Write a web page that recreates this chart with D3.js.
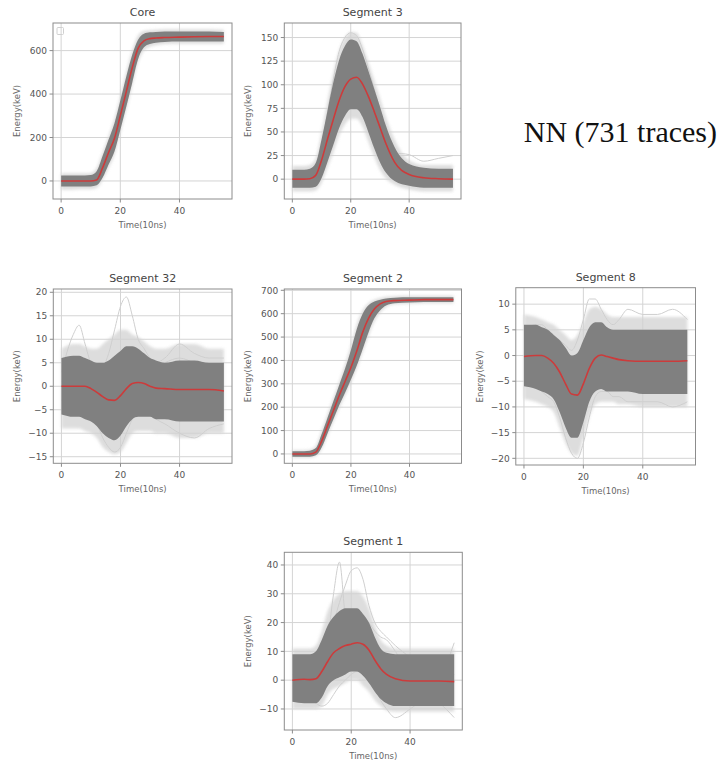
<!DOCTYPE html>
<html>
<head>
<meta charset="utf-8">
<script src="https://cdnjs.cloudflare.com/ajax/libs/d3/7.8.5/d3.min.js"></script>
<style>
    body { margin: 0; background: #fff; }
    .tick-label { font-family: "DejaVu Sans", sans-serif; font-size: 9px; fill: #555; }
    .panel-title { font-family: "DejaVu Sans", sans-serif; font-size: 11px; fill: #444; }
    .axis-label { font-family: "DejaVu Sans", sans-serif; font-size: 8.5px; fill: #666; }
</style>
</head>
<body>
<div id="chart-area"></div>
<script>

// sample times (10ns units), shared by every series below
let times = [0, 4, 6, 8, 10, 12, 14, 16, 18, 20, 22, 24, 26, 28, 30, 32, 35, 40, 45, 50, 55];
let xTicks = [0, 20, 40];

// Core
let coreMean  = [0, 0, 0, 0, 0, 5, 60, 130, 195, 300, 410, 520, 610, 645, 655, 658, 660, 662, 664, 665, 665];
let coreHi    = [25, 25, 25, 25, 27, 45, 115, 190, 265, 370, 480, 580, 650, 678, 684, 686, 688, 688, 688, 688, 686];
let coreLo    = [-25, -25, -25, -25, -25, -20, 15, 75, 135, 235, 340, 450, 560, 615, 630, 636, 640, 642, 642, 642, 642];
let coreHiOut = [35, 35, 35, 35, 37, 60, 130, 205, 285, 390, 500, 600, 670, 690, 694, 696, 698, 698, 698, 698, 696];
let coreLoOut = [-40, -40, -38, -38, -38, -32, 5, 60, 120, 220, 325, 435, 545, 600, 618, 625, 630, 632, 632, 632, 632];
let coreTicks = [0, 200, 400, 600];

// Segment 3
let seg3Mean  = [0, 0, 0.5, 4, 20, 42, 63, 83, 98, 106, 108, 101, 88, 72, 55, 38, 18, 5, 1.5, 0.5, 0];
let seg3Hi    = [10, 10, 11, 17, 42, 72, 102, 126, 141, 148, 146, 133, 115, 96, 77, 57, 34, 16, 12, 11, 11];
let seg3Lo    = [-9, -9, -9, -8, 1, 18, 36, 54, 67, 74, 74, 66, 50, 33, 18, 7, -2, -7, -9, -9, -9];
let seg3HiOut = [14, 14, 15, 22, 50, 82, 112, 136, 150, 156, 155, 142, 124, 105, 86, 66, 42, 20, 15, 15, 15];
let seg3LoOut = [-13, -13, -13, -12, -4, 12, 28, 46, 58, 64, 64, 56, 40, 24, 10, 1, -6, -11, -13, -13, -13];
let seg3Tail  = [0, 0, 0, 2, 15, 35, 60, 85, 100, 110, 112, 105, 92, 75, 58, 40, 28, 26, 19, 22, 25];
let seg3Peak  = [2, 2, 3, 8, 35, 70, 105, 135, 150, 155, 152, 138, 118, 96, 74, 52, 30, 12, 8, 6, 6];
let seg3Ticks = [0, 25, 50, 75, 100, 125, 150];

// Segment 32
let seg32Mean  = [0, 0, 0, 0, -0.5, -1.3, -2.2, -2.9, -3.0, -2.0, -0.5, 0.6, 0.8, 0.6, 0, -0.4, -0.5, -0.7, -0.7, -0.7, -1.0];
let seg32Hi    = [6, 6.5, 6.5, 6, 5.5, 5, 5, 5.5, 6.5, 7.5, 8.5, 8.5, 8, 7, 6, 5.5, 5, 5.5, 5.5, 5, 5];
let seg32Lo    = [-6, -6.5, -6.5, -7, -7.5, -8.5, -10, -11, -11.5, -10.5, -8.5, -7, -6.5, -6.5, -6.5, -7, -7, -7.5, -7.5, -7.5, -7.5];
let seg32HiOut = [8, 9, 9, 8.5, 8, 8, 9, 10, 11, 12, 12, 11, 10.5, 9.5, 8.5, 8, 8, 9, 9, 8, 8];
let seg32LoOut = [-9, -9, -9, -9.5, -10, -11, -13, -14, -14.5, -14, -12, -10, -9.5, -9.5, -9.5, -10, -10, -11, -11, -10, -10];
let seg32Up    = [1, 2, 2, 1, 2, 3, 4, 7, 12, 17, 19, 15, 10, 8, 6, 5, 6, 9, 7, 6, 6];
let seg32Early = [3, 11, 13, 9, 5, 4, 3, 2, 2, 3, 4, 5, 6, 5, 4, 4, 5, 6, 5, 4, 5];
let seg32Down  = [-3, -4, -4, -5, -6, -8, -11, -13, -14, -13, -10, -7, -5, -5, -6, -7, -8, -10, -11, -9, -8];
let seg32Ticks = [-15, -10, -5, 0, 5, 10, 15, 20];

// Segment 2
let seg2Mean  = [0, 0, 0, 8, 55, 120, 185, 250, 310, 370, 440, 520, 580, 620, 642, 652, 656, 658, 660, 660, 660];
let seg2Hi    = [12, 12, 14, 25, 85, 155, 225, 295, 365, 445, 535, 600, 636, 652, 660, 665, 668, 670, 670, 670, 670];
let seg2Lo    = [-12, -12, -12, -6, 28, 88, 148, 208, 262, 318, 378, 448, 520, 580, 615, 635, 645, 648, 650, 650, 650];
let seg2HiOut = [16, 16, 18, 35, 100, 170, 240, 310, 385, 465, 555, 615, 645, 660, 667, 672, 675, 677, 677, 677, 677];
let seg2LoOut = [-16, -16, -16, -10, 20, 78, 138, 195, 250, 305, 365, 435, 505, 565, 605, 628, 640, 643, 645, 645, 645];
let seg2Ticks = [0, 100, 200, 300, 400, 500, 600, 700];

// Segment 8
let seg8Mean  = [-0.2, 0, 0, -0.5, -1.5, -3.2, -5.5, -7.5, -7.7, -5.5, -2.5, -0.5, 0.1, -0.2, -0.5, -0.8, -1, -1.1, -1.1, -1.1, -1.0];
let seg8Hi    = [6, 6, 5.5, 5, 4, 3, 1.5, 0, 0.5, 3, 5.5, 6.5, 6.5, 5.5, 5, 5, 5, 5, 5, 5, 5];
let seg8Lo    = [-6, -6.5, -7, -7.5, -8.5, -11, -14, -16, -16, -13, -9, -7, -6.5, -7, -7, -7, -7, -7.5, -7.5, -7.5, -7.5];
let seg8HiOut = [8, 7.5, 7, 6.5, 6, 5, 4, 3, 4, 6.5, 9, 9.5, 9, 8, 7.5, 7.5, 7.5, 7.5, 7.5, 7.5, 7.5];
let seg8LoOut = [-8.5, -9, -9.5, -10, -11, -14, -17, -19, -19.5, -16, -12, -9.5, -9, -9, -9, -9.5, -9.5, -10, -10, -10, -10];
let seg8Up    = [5, 6, 6, 5, 4, 3, 2, 1, 3, 7, 11, 11, 9, 7, 6, 7, 9, 8, 8, 9, 7];
let seg8Down  = [-5, -6, -7, -8, -9, -12, -16, -19, -20, -17, -12, -8, -7, -7, -8, -8, -9, -9, -9, -10, -9];
let seg8Ticks = [-20, -15, -10, -5, 0, 5, 10];

// Segment 1
let seg1Mean  = [0, 0.3, 0.2, 0.5, 3, 6.5, 9.5, 11, 12, 12.5, 13, 12.5, 10.5, 7, 4, 2, 0.5, -0.3, -0.3, -0.3, -0.5];
let seg1Hi    = [9, 9, 9, 10, 14, 19, 22, 24, 25, 25, 25, 23, 20, 15, 11, 9.5, 9, 9, 9, 9, 9];
let seg1Lo    = [-7.5, -8, -8, -8, -6, -2, 0, 1, 2, 3, 3, 1.5, -1, -4, -6.5, -8, -9, -9, -9, -9, -9];
let seg1HiOut = [11, 11, 11, 12, 17, 24, 28, 30, 31, 31, 31, 29, 25, 19, 14, 12, 11, 11, 11, 11, 11];
let seg1LoOut = [-10, -10, -10, -10, -9, -5, -3, -2, -1, 0, 0, -2, -4, -7, -9, -10.5, -11, -11, -11, -11, -11];
let seg1Spike = [0, 0, 0, 1, 6, 14, 30, 41, 22, 15, 10, 8, 6, 4, 2, 1, 0, 0, 0, 0, 0];
let seg1Wide  = [2, 2, 3, 4, 8, 14, 20, 27, 33, 38, 39, 35, 26, 20, 17, 15, 12, 8, 5, 3, 2];
let seg1Tail  = [-2, -3, -4, -5, -4, 0, 5, 10, 15, 18, 20, 22, 20, 17, 15, 14, 10, 2, -5, -8, -13];
let seg1End   = [-3, -5, -6, -8, -9, -8, -5, -2, 0, 2, 3, 2, 0, -3, -7, -10, -13, -10, -6, 0, 13];
let seg1Ticks = [-10, 0, 10, 20, 30, 40];


class TracePanel {

    constructor(svg, cfg, id) {
        this.svg = svg;
        this.cfg = cfg;
        this.id = id;
        this.initVis();
    }

    initVis() {
        let vis = this;
        let c = vis.cfg;

        vis.x = d3.scaleLinear().domain([-2.75, 57.75]).range([c.left, c.right]);
        vis.y = d3.scaleLinear().domain(c.yDomain).range([c.bottom, c.top]);

        vis.g = vis.svg.append("g");

        vis.svg.select("defs").append("clipPath")
            .attr("id", "clip" + vis.id)
            .append("rect")
            .attr("x", c.left).attr("y", c.top)
            .attr("width", c.right - c.left).attr("height", c.bottom - c.top);

        // grid
        vis.g.selectAll(".gx").data(xTicks).enter().append("line")
            .attr("x1", d => vis.x(d)).attr("x2", d => vis.x(d))
            .attr("y1", c.top).attr("y2", c.bottom)
            .attr("stroke", "#d4d4d4").attr("stroke-width", 1);
        vis.g.selectAll(".gy").data(c.yTicks).enter().append("line")
            .attr("x1", c.left).attr("x2", c.right)
            .attr("y1", d => vis.y(d)).attr("y2", d => vis.y(d))
            .attr("stroke", "#d4d4d4").attr("stroke-width", 1);

        vis.plot = vis.g.append("g").attr("clip-path", "url(#clip" + vis.id + ")");

        vis.updateVis();
    }

    updateVis() {
        let vis = this;
        let c = vis.cfg;
        let rows = (a, b) => times.map((t, i) => ({t: t, a: a[i], b: b ? b[i] : 0}));

        let band = d3.area().curve(d3.curveMonotoneX)
            .x(d => vis.x(d.t)).y0(d => vis.y(d.b)).y1(d => vis.y(d.a));
        let line = d3.line().curve(d3.curveMonotoneX)
            .x(d => vis.x(d.t)).y(d => vis.y(d.a));

        // faint spread of the outer traces
        vis.plot.append("path").datum(rows(c.hiOut, c.loOut))
            .attr("d", band).attr("fill", "#d2d2d2")
            .attr("opacity", 0.75)
            .attr("filter", "url(#soft)");

        c.extra.forEach(s => {
            vis.plot.append("path").datum(rows(s))
                .attr("d", line).attr("fill", "none")
                .attr("stroke", "#cfcfcf").attr("stroke-width", 1)
                .attr("filter", "url(#soft1)");
        });

        // dense bundle of traces
        vis.plot.append("path").datum(rows(c.hi, c.lo))
            .attr("d", band).attr("fill", "#808080")
            .attr("filter", "url(#soft1)");

        // mean trace
        vis.plot.append("path").datum(rows(c.mean))
            .attr("d", line).attr("fill", "none")
            .attr("stroke", "#cc3b3b").attr("stroke-width", 1.6);

        // frame
        vis.g.append("rect")
            .attr("x", c.left).attr("y", c.top)
            .attr("width", c.right - c.left).attr("height", c.bottom - c.top)
            .attr("fill", "none").attr("stroke", "#8c8c8c").attr("stroke-width", 1);

        // ticks + labels
        vis.g.selectAll(".tx").data(xTicks).enter().append("line")
            .attr("x1", d => vis.x(d)).attr("x2", d => vis.x(d))
            .attr("y1", c.bottom).attr("y2", c.bottom + 3.5)
            .attr("stroke", "#8c8c8c");
        vis.g.selectAll(".lx").data(xTicks).enter().append("text")
            .attr("class", "tick-label")
            .attr("x", d => vis.x(d)).attr("y", c.bottom + 15)
            .attr("text-anchor", "middle")
            .text(d => d);

        vis.g.selectAll(".ty").data(c.yTicks).enter().append("line")
            .attr("x1", c.left - 3.5).attr("x2", c.left)
            .attr("y1", d => vis.y(d)).attr("y2", d => vis.y(d))
            .attr("stroke", "#8c8c8c");
        vis.g.selectAll(".ly").data(c.yTicks).enter().append("text")
            .attr("class", "tick-label")
            .attr("x", c.left - 6).attr("y", d => vis.y(d) + 3.2)
            .attr("text-anchor", "end")
            .text(d => d < 0 ? "\u2212" + Math.abs(d) : d);

        vis.g.append("text")
            .attr("class", "panel-title")
            .attr("x", (c.left + c.right) / 2).attr("y", c.top - 7)
            .attr("text-anchor", "middle")
            .text(c.title);

        vis.g.append("text")
            .attr("class", "axis-label")
            .attr("x", (c.left + c.right) / 2).attr("y", c.bottom + 28.5)
            .attr("text-anchor", "middle")
            .text("Time(10ns)");

        let ly = (c.top + c.bottom) / 2;
        vis.g.append("text")
            .attr("class", "axis-label")
            .attr("transform", "translate(" + (c.left - 33) + "," + ly + ") rotate(-90)")
            .attr("text-anchor", "middle")
            .text("Energy(keV)");
    }
}


let svg = d3.select("#chart-area").append("svg")
    .attr("width", 723)
    .attr("height", 761);

let defs = svg.append("defs");
defs.append("filter").attr("id", "soft")
    .attr("x", "-10%").attr("y", "-10%").attr("width", "120%").attr("height", "120%")
    .append("feGaussianBlur").attr("stdDeviation", 1.6);
defs.append("filter").attr("id", "soft1")
    .attr("x", "-10%").attr("y", "-10%").attr("width", "120%").attr("height", "120%")
    .append("feGaussianBlur").attr("stdDeviation", 0.7);

let panels = [
    {title: "Core", left: 53, right: 232, top: 23, bottom: 199, yDomain: [-83, 727], yTicks: coreTicks,
        mean: coreMean, hi: coreHi, lo: coreLo, hiOut: coreHiOut, loOut: coreLoOut, extra: []},
    {title: "Segment 3", left: 284.3, right: 461, top: 23, bottom: 199, yDomain: [-21, 165.4], yTicks: seg3Ticks,
        mean: seg3Mean, hi: seg3Hi, lo: seg3Lo, hiOut: seg3HiOut, loOut: seg3LoOut, extra: [seg3Tail, seg3Peak]},
    {title: "Segment 32", left: 53.3, right: 232, top: 289, bottom: 463.3, yDomain: [-16.4, 20.7], yTicks: seg32Ticks,
        mean: seg32Mean, hi: seg32Hi, lo: seg32Lo, hiOut: seg32HiOut, loOut: seg32LoOut, extra: [seg32Up, seg32Early, seg32Down]},
    {title: "Segment 2", left: 284.3, right: 461.5, top: 289, bottom: 463.3, yDomain: [-40, 705.6], yTicks: seg2Ticks,
        mean: seg2Mean, hi: seg2Hi, lo: seg2Lo, hiOut: seg2HiOut, loOut: seg2LoOut, extra: []},
    {title: "Segment 8", left: 515.8, right: 695.5, top: 287.7, bottom: 465, yDomain: [-21.3, 13.2], yTicks: seg8Ticks,
        mean: seg8Mean, hi: seg8Hi, lo: seg8Lo, hiOut: seg8HiOut, loOut: seg8LoOut, extra: [seg8Up, seg8Down]},
    {title: "Segment 1", left: 284.3, right: 462.3, top: 552.3, bottom: 730, yDomain: [-17.3, 44.4], yTicks: seg1Ticks,
        mean: seg1Mean, hi: seg1Hi, lo: seg1Lo, hiOut: seg1HiOut, loOut: seg1LoOut, extra: [seg1Spike, seg1Wide, seg1Tail, seg1End]}
];

panels.forEach((p, i) => new TracePanel(svg, p, i));

// empty legend box left in the Core panel
svg.append("rect")
    .attr("x", 57).attr("y", 27.5).attr("width", 6.5).attr("height", 7)
    .attr("rx", 1).attr("fill", "none")
    .attr("stroke", "#d0d0d0").attr("stroke-width", 1);

svg.append("text")
    .attr("x", 717).attr("y", 141.5)
    .attr("text-anchor", "end")
    .style("font-family", "'Liberation Serif', 'Times New Roman', serif")
    .style("font-size", "30px")
    .style("fill", "#111")
    .text("NN (731 traces)");

</script>
</body>
</html>
